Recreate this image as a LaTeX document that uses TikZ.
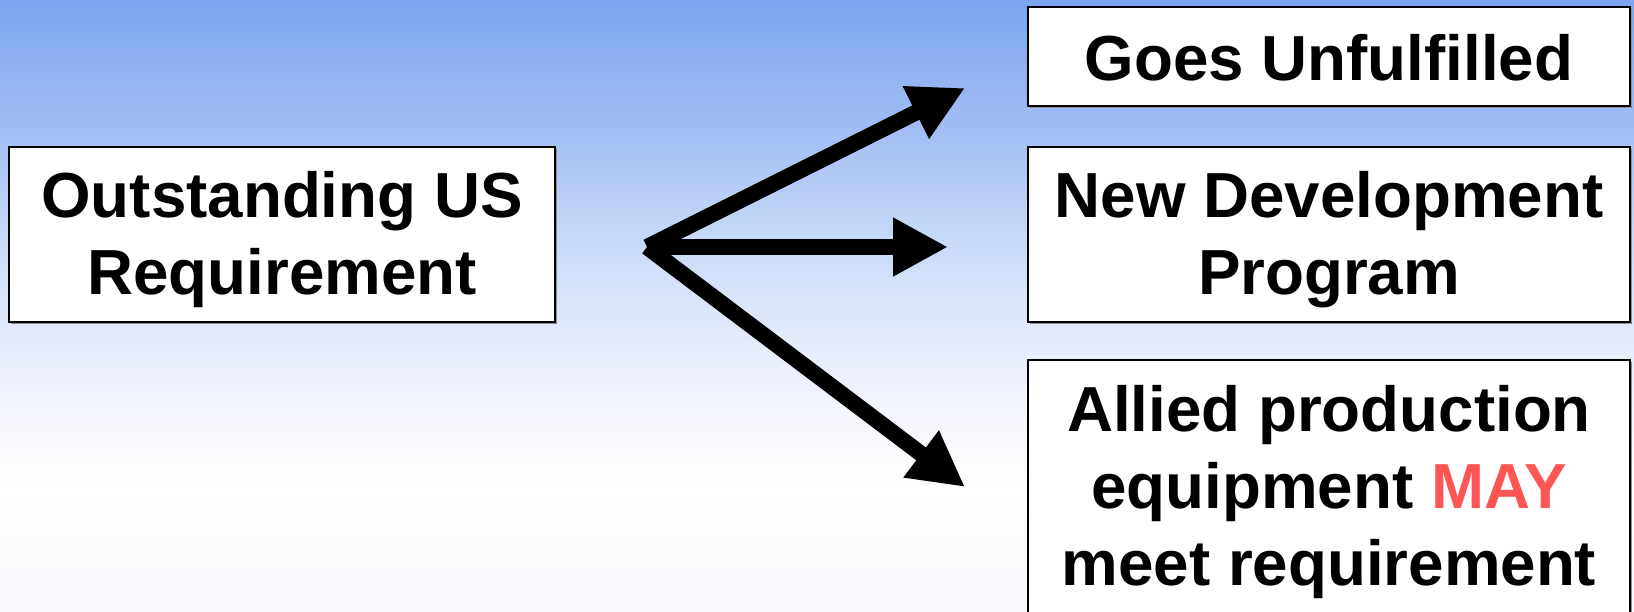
\documentclass[tikz,border=0pt]{standalone}
\usepackage{fontspec}
\setmainfont{Liberation Sans}
\usetikzlibrary{arrows.meta,shadows}
\definecolor{c0}{RGB}{248,248,254}
\definecolor{c1}{RGB}{255,255,253}
\definecolor{c2}{RGB}{242,244,253}
\definecolor{c3}{RGB}{220,230,250}
\definecolor{c4}{RGB}{192,212,247}
\definecolor{c5}{RGB}{160,188,244}
\definecolor{c6}{RGB}{123,165,241}
\definecolor{mayred}{RGB}{255,85,85}
\pgfdeclareverticalshading{skybg}{100bp}{color(0bp)=(c0); color(25bp)=(c0); color(35bp)=(c1); color(42.5bp)=(c2); color(50bp)=(c3); color(57.5bp)=(c4); color(65bp)=(c5); color(75bp)=(c6); color(100bp)=(c6)}
\begin{document}
\begin{tikzpicture}[x=1pt,y=-1pt,
  box/.style={draw=black, line width=2pt, fill=white, rectangle, inner sep=0pt,
    drop shadow={shadow xshift=1.5pt,shadow yshift=-2pt,fill=black!45,opacity=1}},
  txt/.style={font=\fontsize{63.7}{77}\selectfont\bfseries, align=center, inner sep=0pt},
  arr/.style={line width=16pt, -{Triangle[length=55pt,width=55pt]}}]
\useasboundingbox (0,0) rectangle (1634,611);
\clip (0,0) rectangle (1634,611);
\shade[shading=skybg] (0,0) rectangle (1634,611);
\node[box, minimum width=546pt, minimum height=175pt] (req) at (282,234.5) {};
\node[txt] (reqt) at (282,240) {Outstanding US\\Requirement};
\node[box, minimum width=602pt, minimum height=99pt] (goes) at (1329,56.7) {};
\node[txt] (goest) at (1329,57.7) {Goes Unfulfilled};
\node[box, minimum width=602pt, minimum height=175pt] (newd) at (1329,234.5) {};
\node[txt] (newdt) at (1329,240) {New Development\\Program};
\node[box, minimum width=602pt, minimum height=290pt] (ally) at (1329,505) {};
\node[txt] (allyt) at (1329,492.5) {Allied production\\equipment \textcolor{mayred}{MAY}\\meet requirement};
\coordinate (fork) at (647,247);
\coordinate (t1) at (965,88);
\coordinate (t2) at (948,247);
\coordinate (t3) at (965,487);
\draw[arr] (fork) -- (t1);
\draw[arr] (fork) -- (t2);
\draw[arr] (fork) -- (t3);
\end{tikzpicture}
\end{document}
